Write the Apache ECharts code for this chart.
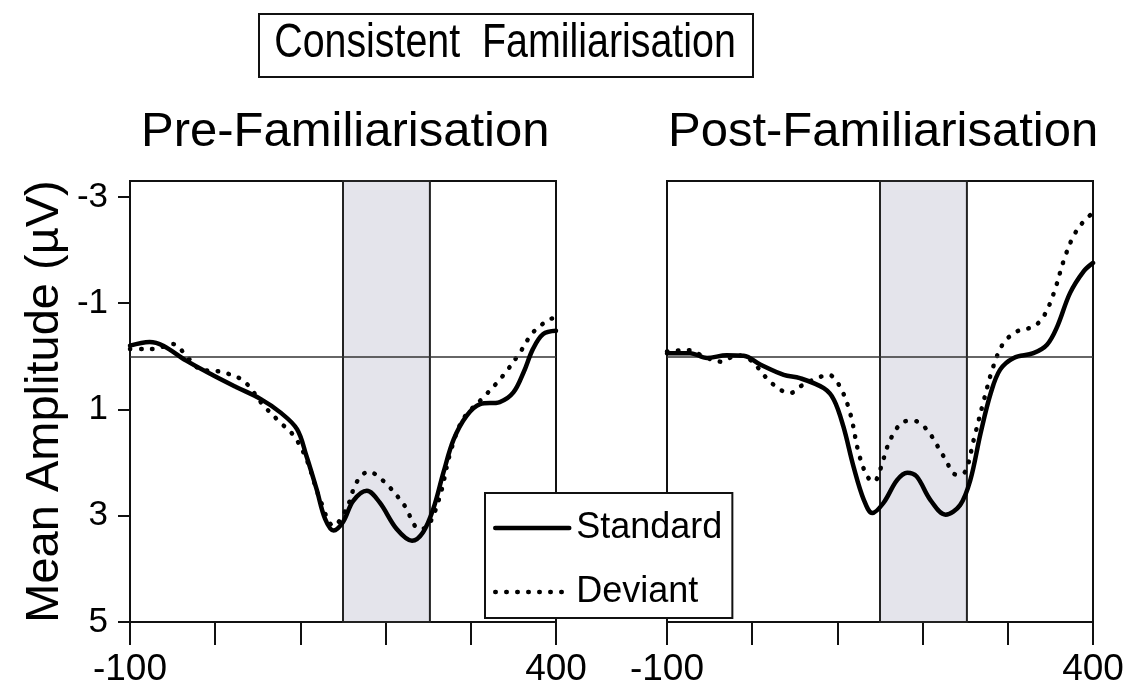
<!DOCTYPE html>
<html>
<head>
<meta charset="utf-8">
<script src="https://cdn.jsdelivr.net/npm/echarts@6/dist/echarts.min.js"></script>
<style>
html,body{margin:0;padding:0;background:#fff;}
#chart{width:1132px;height:695px;}
</style>
</head>
<body>
<div id="chart"></div>
<script>
// ---- Data (time in ms, amplitude in µV) ----
const mainTitle = 'Consistent  Familiarisation';
const panelTitles = ['Pre-Familiarisation', 'Post-Familiarisation'];
const seriesNames = ['Standard', 'Deviant'];
const yAxisTitle = 'Mean Amplitude (µV)';
const xTickLabels = [-100, 400];
const yTickLabels = [-3, -1, 1, 3, 5];
const shadedWindow = [150, 252];

const preStdTime = [-100,-77,-61,-34,-2,25,53,76,96,107,119,129,139,150,162,178,193,213,231,244,256,268,280,295,311,334,350,362,373,385,400];
const preStdAmp  = [-0.2,-0.27,-0.2,0.08,0.36,0.58,0.8,1.05,1.37,1.87,2.5,3.06,3.28,3.12,2.72,2.53,2.75,3.25,3.47,3.31,2.87,2.18,1.56,1.12,0.9,0.86,0.68,0.3,-0.14,-0.42,-0.48];

const preDevTime = [-100,-84,-73,-49,-34,-18,6,33,57,76,92,107,123,139,154,166,180,197,221,240,250,264,276,291,315,338,358,373,393,400];
const preDevAmp  = [-0.14,-0.14,-0.14,-0.23,-0.01,0.24,0.29,0.46,0.93,1.24,1.49,1.93,2.69,3.19,2.87,2.37,2.17,2.34,2.78,3.25,3.19,2.62,1.81,1.18,0.77,0.36,-0.08,-0.45,-0.7,-0.72];

const postStdTime = [-100,-73,-53,-30,-10,10,37,56,84,96,107,119,131,141,154,170,182,193,209,227,244,256,268,280,291,307,330,346,358,373,389,400];
const postStdAmp  = [-0.06,-0.06,0.03,-0.02,-0.01,0.16,0.35,0.41,0.6,0.82,1.32,2.08,2.7,2.95,2.76,2.33,2.19,2.26,2.7,2.98,2.8,2.33,1.45,0.69,0.25,0.03,-0.06,-0.22,-0.56,-1.19,-1.6,-1.76];

const postDevTime = [-100,-77,-53,-37,-18,-2,17,33,45,56,76,90,103,115,125,135,143,150,162,178,189,205,225,240,250,260,272,283,295,311,330,342,354,366,377,389,400];
const postDevAmp  = [-0.09,-0.12,0.03,0.1,-0.02,0.07,0.41,0.63,0.69,0.57,0.41,0.35,0.57,1.07,1.82,2.26,2.36,2.14,1.57,1.23,1.21,1.38,1.89,2.23,2.17,1.57,0.82,0.19,-0.25,-0.47,-0.56,-0.75,-1.19,-1.82,-2.26,-2.54,-2.7];

// ---- Build ----
const zip = (t, v) => t.map((x, i) => [x, v[i]]);
const FONT = "'Liberation Sans', Arial, sans-serif";

const gridBox = { show: true, top: 181, height: 441, width: 426, borderColor: '#111', borderWidth: 2, backgroundColor: 'transparent' };

function xAx(gi) {
  return {
    type: 'value', gridIndex: gi, min: -100, max: 400, interval: 100,
    axisLine: { show: true, onZero: false, lineStyle: { color: '#111', width: 2 } },
    axisTick: { show: true, length: 23, lineStyle: { color: '#111', width: 2 } },
    axisLabel: { show: true, customValues: xTickLabels, margin: 29, fontSize: 37, color: '#000', fontFamily: FONT },
    splitLine: { show: false }
  };
}
function yAx(gi, withTicks) {
  return {
    type: 'value', gridIndex: gi, min: -3.3, max: 5, inverse: true,
    name: withTicks ? yAxisTitle : '', nameLocation: 'middle', nameGap: 61, nameRotate: 90,
    nameTextStyle: { fontSize: 47, color: '#000', fontFamily: FONT },
    axisLine: { show: true, onZero: false, lineStyle: { color: '#111', width: 2 } },
    axisTick: { show: withTicks, customValues: yTickLabels, length: 12, lineStyle: { color: '#111', width: 2 } },
    axisLabel: { show: withTicks, customValues: yTickLabels, margin: 22, fontSize: 35, color: '#000', fontFamily: FONT },
    splitLine: { show: false }
  };
}

const solidStyle = { color: '#000', width: 4.5, type: 'solid', cap: 'round', join: 'round' };
const dotStyle = { color: '#000', width: 4.5, type: [0.5, 10.5], cap: 'round' };

function panelSeries(gi, stdT, stdV, devT, devV) {
  return [
    {
      name: seriesNames[0], type: 'line', xAxisIndex: gi, yAxisIndex: gi,
      data: zip(stdT, stdV), smooth: 0.35, symbol: 'none', lineStyle: solidStyle, itemStyle: { color: '#000' },
      z: 5,
      markArea: {
        silent: true,
        itemStyle: { color: '#e4e4eb', borderColor: '#222', borderWidth: 2 },
        data: [[{ xAxis: shadedWindow[0] }, { xAxis: shadedWindow[1] }]]
      }
    },
    {
      name: seriesNames[1], type: 'line', xAxisIndex: gi, yAxisIndex: gi,
      data: zip(devT, devV), smooth: 0.35, symbol: 'none', lineStyle: dotStyle, itemStyle: { color: '#000' },
      z: 4,
      markLine: {
        silent: true, symbol: ['none', 'none'], label: { show: false },
        lineStyle: { color: '#333', width: 1.5, type: 'solid' },
        data: [{ yAxis: 0 }]
      }
    }
  ];
}

const option = {
  backgroundColor: '#fff',
  animation: false,
  title: [
    { text: panelTitles[0], left: 141, top: 108, padding: 0,
      textStyle: { fontSize: 49, fontWeight: 'normal', color: '#000', fontFamily: FONT } },
    { text: panelTitles[1], left: 668, top: 108, padding: 0,
      textStyle: { fontSize: 49, fontWeight: 'normal', color: '#000', fontFamily: FONT } }
  ],
  graphic: [
    { type: 'rect', left: 258, top: 13, shape: { width: 494, height: 63 },
      style: { fill: '#fff', stroke: '#111', lineWidth: 2 }, z: 10 },
    { type: 'text', x: 505, y: 44, scaleX: 0.82, z: 11,
      style: { text: mainTitle, fontSize: 48, fontFamily: FONT, fill: '#000', align: 'center', verticalAlign: 'middle' } }
  ],
  legend: {
    data: seriesNames, orient: 'vertical', left: 485, top: 493,
    padding: [17, 10, 8, 8], itemWidth: 74, itemHeight: 36, itemGap: 28,
    backgroundColor: '#fff', borderColor: '#111', borderWidth: 2, z: 20,
    itemStyle: { opacity: 0, borderWidth: 0 },
    lineStyle: { width: 4.5 },
    textStyle: { fontSize: 36, color: '#000', fontFamily: FONT, padding: [0, 0, 0, 2] },
    selectedMode: false
  },
  grid: [
    Object.assign({ left: 130 }, gridBox),
    Object.assign({ left: 667 }, gridBox)
  ],
  xAxis: [xAx(0), xAx(1)],
  yAxis: [yAx(0, true), yAx(1, false)],
  series: [].concat(
    panelSeries(0, preStdTime, preStdAmp, preDevTime, preDevAmp),
    panelSeries(1, postStdTime, postStdAmp, postDevTime, postDevAmp)
  )
};

const chart = echarts.init(document.getElementById('chart'), null, { renderer: 'canvas' });
chart.setOption(option);
</script>
</body>
</html>
